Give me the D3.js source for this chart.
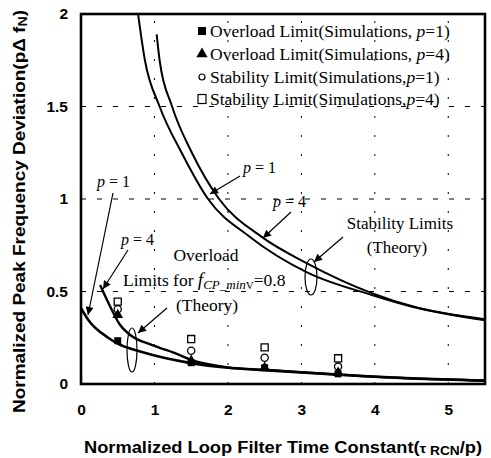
<!DOCTYPE html>
<html><head><meta charset="utf-8">
<script src="https://cdn.jsdelivr.net/npm/d3@7"></script>
<style>body{margin:0;background:#fff}</style>
</head><body>
<svg id="c" width="491" height="458"></svg>
<script>
// ---- data ----
const xTicks = [0,1,2,3,4,5];
const yTicks = [0,0.5,1,1.5,2];
const yTickLabels = ["0","0.5","1","1.5","2"];
const stabP1 = [[0.77,2.02],[0.87,1.75],[1.07,1.5],[1.37,1.25],[1.73,1.0],[2.30,0.795],[3.07,0.605],[3.97,0.48],[4.51,0.418],[5.5,0.345]];
const stabP4 = [[1.03,1.89],[1.07,1.75],[1.24,1.5],[1.51,1.25],[1.88,1.0],[2.46,0.795],[3.07,0.654],[3.97,0.49],[4.51,0.42],[5.5,0.35]];
const overP1 = [[0,0.41],[0.1,0.346],[0.37,0.25],[0.5,0.218],[0.83,0.173],[1.5,0.113],[2.0,0.088],[2.5,0.075],[3.5,0.05],[4.5,0.03],[5.5,0.018]];
const overP4 = [[0.26,0.535],[0.42,0.40],[0.53,0.32],[0.67,0.265],[0.97,0.21],[1.28,0.167],[1.5,0.13],[2.0,0.09],[2.5,0.077],[3.5,0.051],[4.5,0.031],[5.5,0.019]];
const simX = [0.5,1.5,2.5,3.5];
const simOverP1 = [0.234,0.115,0.088,0.055];
const simOverP4 = [0.373,0.126,0.088,0.061];
const simStabP1 = [0.404,0.18,0.142,0.094];
const simStabP4 = [0.445,0.243,0.198,0.139];
const legendLabels = ["Overload Limit(Simulations, ","Overload Limit(Simulations, ","Stability Limit(Simulations,","Stability Limit(Simulations,"];
const legendP = ["1","4","1","4"];

// ---- drawing ----
const svg = d3.select("#c");
const x = d3.scaleLinear().domain([0,5.5]).range([81,485]);
const y = d3.scaleLinear().domain([0,2]).range([384,14]);
const serif = "'Liberation Serif','Times New Roman',serif";
const sans = "'Liberation Sans',Arial,sans-serif";

svg.append("defs").append("clipPath").attr("id","clip")
  .append("rect").attr("x",x(0)).attr("y",y(2)).attr("width",x(5.5)-x(0)).attr("height",y(0)-y(2));
svg.select("defs").append("marker").attr("id","arr").attr("viewBox","0 0 10 10")
  .attr("refX",10).attr("refY",5).attr("markerWidth",10).attr("markerHeight",8)
  .attr("markerUnits","userSpaceOnUse").attr("orient","auto")
  .append("path").attr("d","M0,0 L10,5 L0,10 z").attr("fill","#000");

// grid
svg.append("g").selectAll("line").data(yTicks.filter(d=>d>0&&d<2)).join("line")
  .attr("x1",x(0)).attr("x2",x(5.5)).attr("y1",d=>y(d)).attr("y2",d=>y(d))
  .attr("stroke","#000").attr("stroke-width",1).attr("stroke-dasharray","5,11");
svg.append("g").selectAll("line").data(xTicks.filter(d=>d>0)).join("line")
  .attr("x1",d=>x(d)).attr("x2",d=>x(d)).attr("y1",y(0)).attr("y2",y(2))
  .attr("stroke","#000").attr("stroke-width",1).attr("stroke-dasharray","2,17");

// axes tick labels
const xa = d3.axisBottom(x).tickValues(xTicks).tickFormat(d3.format("d")).tickSize(0).tickPadding(20);
const gx = svg.append("g").attr("transform",`translate(0,${y(0)})`).call(xa);
gx.select(".domain").remove();
gx.selectAll("text").attr("font-family",sans).attr("font-weight","bold").attr("font-size",15.5).attr("fill","#000");
const ya = d3.axisLeft(y).tickValues(yTicks).tickFormat((d,i)=>yTickLabels[i]).tickSize(0).tickPadding(13);
const gy = svg.append("g").attr("transform",`translate(${x(0)},0)`).call(ya);
gy.select(".domain").remove();
gy.selectAll("text").attr("font-family",sans).attr("font-weight","bold").attr("font-size",15.5).attr("fill","#000");

// curves
const line = d3.line().x(d=>x(d[0])).y(d=>y(d[1])).curve(d3.curveMonotoneX);
const cg = svg.append("g").attr("clip-path","url(#clip)");
cg.append("path").attr("d",line(stabP1)).attr("fill","none").attr("stroke","#000").attr("stroke-width",2);
cg.append("path").attr("d",line(stabP4)).attr("fill","none").attr("stroke","#000").attr("stroke-width",2);
cg.append("path").attr("d",line(overP1)).attr("fill","none").attr("stroke","#000").attr("stroke-width",2.6);
cg.append("path").attr("d",line(overP4)).attr("fill","none").attr("stroke","#000").attr("stroke-width",2.4);

// simulation markers
const sg = svg.append("g");
const sq = d3.symbol().type(d3.symbolSquare).size(49);
const tri = d3.symbol().type(d3.symbolTriangle).size(50);
sg.selectAll(".os4").data(simX).join("path").attr("d",d3.symbol().type(d3.symbolSquare).size(50)())
  .attr("transform",(d,i)=>`translate(${x(d)},${y(simStabP4[i])})`).attr("fill","#fff").attr("stroke","#000").attr("stroke-width",1.3);
sg.selectAll(".os1").data(simX).join("circle").attr("cx",d=>x(d)).attr("cy",(d,i)=>y(simStabP1[i])).attr("r",3.6)
  .attr("fill","#fff").attr("stroke","#000").attr("stroke-width",1.3);
sg.selectAll(".ot4").data(simX).join("path").attr("d",tri())
  .attr("transform",(d,i)=>`translate(${x(d)},${y(simOverP4[i])})`).attr("fill","#000");
sg.selectAll(".ot1").data(simX).join("path").attr("d",sq())
  .attr("transform",(d,i)=>`translate(${x(d)},${y(simOverP1[i])})`).attr("fill","#000");

// frame
svg.append("rect").attr("x",x(0)).attr("y",y(2)).attr("width",x(5.5)-x(0)).attr("height",y(0)-y(2))
  .attr("fill","none").attr("stroke","#000").attr("stroke-width",2.6);

// legend
const lg = svg.append("g");
const ly = [31,54,77,99];
lg.append("rect").attr("x",198).attr("y",ly[0]-4).attr("width",8).attr("height",8).attr("fill","#000");
lg.append("path").attr("d",d3.symbol().type(d3.symbolTriangle).size(55)()).attr("transform",`translate(202,${ly[1]})`).attr("fill","#000");
lg.append("circle").attr("cx",202).attr("cy",ly[2]).attr("r",3).attr("fill","#fff").attr("stroke","#000").attr("stroke-width",1.2);
lg.append("rect").attr("x",198).attr("y",ly[3]-4.5).attr("width",8).attr("height",9).attr("fill","#fff").attr("stroke","#000").attr("stroke-width",1.2);
legendLabels.forEach((t,i)=>{
  const tx = lg.append("text").attr("x",210).attr("y",ly[i]+5.5).attr("font-family",serif).attr("font-size",17.5).attr("fill","#000");
  tx.append("tspan").text(t);
  tx.append("tspan").attr("font-style","italic").text("p");
  tx.append("tspan").text("="+legendP[i]+")");
});

// annotations
const ag = svg.append("g").attr("font-family",serif).attr("font-size",16).attr("fill","#000");
function plabel(px,py,v){
  const t = ag.append("text").attr("x",px).attr("y",py);
  t.append("tspan").attr("font-style","italic").text("p");
  t.append("tspan").text(" = "+v);
}
function arrow(x1,y1,x2,y2){
  ag.append("line").attr("x1",x1).attr("y1",y1).attr("x2",x2).attr("y2",y2)
    .attr("stroke","#000").attr("stroke-width",1.2).attr("marker-end","url(#arr)");
}
plabel(97,187,"1"); arrow(113,193,88,315);
plabel(121,245,"4"); arrow(128,250,103,289);
ag.append("text").attr("x",206).attr("y",261).attr("text-anchor","middle").attr("font-size",17.5).text("Overload");
const lt = ag.append("text").attr("x",123).attr("y",286).attr("font-size",17.5);
lt.append("tspan").text("Limits for ");
lt.append("tspan").attr("font-style","italic").attr("font-size",19).text("f");
lt.append("tspan").attr("font-style","italic").attr("font-size",13).attr("dy",3).text("CP_min");
lt.append("tspan").attr("font-size",11).text("V");
lt.append("tspan").attr("dy",-3).text("=0.8");
ag.append("text").attr("x",207).attr("y",311).attr("text-anchor","middle").attr("font-size",17.5).text("(Theory)");
arrow(167,308,138,333);
ag.append("ellipse").attr("cx",132).attr("cy",350).attr("rx",5).attr("ry",22).attr("fill","none").attr("stroke","#000").attr("stroke-width",1.2);

plabel(243,173,"1"); arrow(240,176,210,194);
plabel(273,207,"4"); arrow(291,212,263,238);
ag.append("text").attr("x",400).attr("y",229).attr("text-anchor","middle").attr("font-size",17).text("Stability Limits");
ag.append("text").attr("x",397).attr("y",253).attr("text-anchor","middle").attr("font-size",17).text("(Theory)");
arrow(343,237,314,262);
ag.append("ellipse").attr("cx",311).attr("cy",277).attr("rx",6).attr("ry",18).attr("fill","none").attr("stroke","#000").attr("stroke-width",1.2);

// axis titles
const xt = svg.append("text").attr("x",84).attr("y",453)
  .attr("textLength",398).attr("lengthAdjust","spacingAndGlyphs")
  .attr("font-family",sans).attr("font-weight","bold").attr("font-size",16).attr("fill","#000");
xt.append("tspan").text("Normalized Loop Filter Time Constant(");
xt.append("tspan").attr("font-size",13).text("τ");
xt.append("tspan").attr("font-size",12).attr("dy",2).text(" RCN");
xt.append("tspan").attr("dy",-2).text("/p)");
const yt = svg.append("text").attr("transform","translate(25,413) rotate(-90)")
  .attr("textLength",403).attr("lengthAdjust","spacingAndGlyphs")
  .attr("font-family",sans).attr("font-weight","bold").attr("font-size",16).attr("fill","#000");
yt.append("tspan").text("Normalized Peak Frequency Deviation(pΔ f");
yt.append("tspan").attr("font-size",12).attr("dy",2).text("N");
yt.append("tspan").attr("dy",-2).text(")");
</script>
</body></html>
